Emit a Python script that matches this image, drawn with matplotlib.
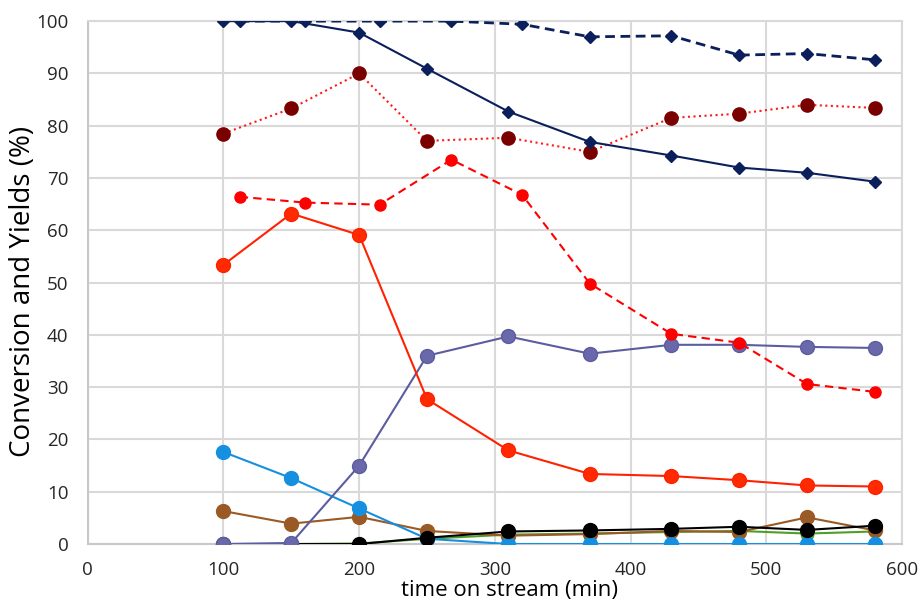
import matplotlib.pyplot as plt

plt.rcParams['font.family'] = ['Open Sans', 'DejaVu Sans']

# sampling times (min)
t_main = [100, 150, 200, 250, 310, 370, 430, 480, 530, 580]
t_shift = [112, 160, 215, 268, 320, 370, 430, 480, 530, 580]

conv_solid = [100, 100, 97.8, 90.9, 82.7, 76.9, 74.3, 72.0, 71.0, 69.3]
conv_dash = [100, 100, 100, 100, 99.4, 97.0, 97.2, 93.5, 93.8, 92.6]
sel_dotted = [78.5, 83.3, 90.0, 77.1, 77.7, 75.0, 81.5, 82.3, 84.0, 83.4]
red_dash = [66.4, 65.3, 64.9, 73.5, 66.8, 49.8, 40.2, 38.5, 30.6, 29.1]
red_solid = [53.4, 63.2, 59.1, 27.7, 17.9, 13.4, 13.0, 12.2, 11.2, 11.0]
purple = [0.0, 0.2, 15.0, 36.0, 39.7, 36.4, 38.1, 38.1, 37.7, 37.5]
blue = [17.6, 12.6, 6.8, 1.0, 0.0, 0.0, 0.0, 0.0, 0.0, 0.0]
brown = [6.3, 3.9, 5.2, 2.5, 1.6, 1.9, 2.5, 2.3, 5.1, 2.6]
green = [0.0, 0.0, 0.1, 1.0, 1.8, 2.0, 2.3, 2.5, 2.0, 2.4]
black = [0.0, 0.0, 0.0, 1.2, 2.4, 2.6, 2.9, 3.3, 2.7, 3.5]

fig = plt.figure(figsize=(9.19, 6.02), dpi=100)
ax = fig.add_axes([0.0955, 0.0963, 0.886, 0.8686])

navy = '#0A1F5C'
ax.plot(t_main, green, '-o', color='#4E9F2A', lw=1.5, ms=9, zorder=3)
ax.plot(t_main, brown, '-o', color='#9A5A25', lw=1.5, ms=10, zorder=4)
ax.plot(t_main, black, '-o', color='black', lw=1.5, ms=10, zorder=5)
ax.plot(t_main, blue, '-o', color='#1590E0', lw=1.5, ms=10, zorder=4)
ax.plot(t_main, purple, '-o', color='#5C5CA0', mfc='#6868AA', mec='#5C5CA0',
        lw=1.5, ms=10, zorder=6)
ax.plot(t_main, red_solid, '-o', color='#FF2200', mfc='#FF2A00', lw=1.5, ms=10, zorder=6)
ax.plot(t_shift, red_dash, '--o', color='#FF0000', lw=1.5, ms=8, dashes=(4, 2.5), zorder=6)
ax.plot(t_main, sel_dotted, ':o', color='#FF1A1A', mfc='#7A0000', mec='#7A0000',
        lw=1.5, ms=9.5, zorder=6)
ax.plot(t_main, conv_solid, '-D', color=navy, lw=1.5, ms=6.5, zorder=7)
ax.plot(t_shift, conv_dash, '--D', color=navy, lw=2, ms=6.5, dashes=(3.5, 2), zorder=7)

ax.set_xlim(0, 600)
ax.set_ylim(0, 100)
ax.set_xticks(range(0, 601, 100))
ax.set_yticks(range(0, 101, 10))
ax.grid(True, color='#D9D9D9', lw=1.5)
ax.set_axisbelow(True)
for side in ['top', 'right']:
    ax.spines[side].set_color('#D9D9D9')
    ax.spines[side].set_linewidth(1.5)
for side in ['left', 'bottom']:
    ax.spines[side].set_color('#C8C8C8')
    ax.spines[side].set_linewidth(1.5)
ax.tick_params(length=0, labelsize=13.5, colors='#262626')
ax.tick_params(axis='y', pad=14)
ax.tick_params(axis='x', pad=12)

ax.set_xlabel('time on stream (min)', fontsize=16, va='baseline')
ax.xaxis.set_label_coords(0.518, -0.1)
ax.set_ylabel('Conversion and Yields (%)', fontsize=20)
ax.yaxis.set_label_coords(-0.062, 0.484)

fig.savefig('out.png', dpi=100)
